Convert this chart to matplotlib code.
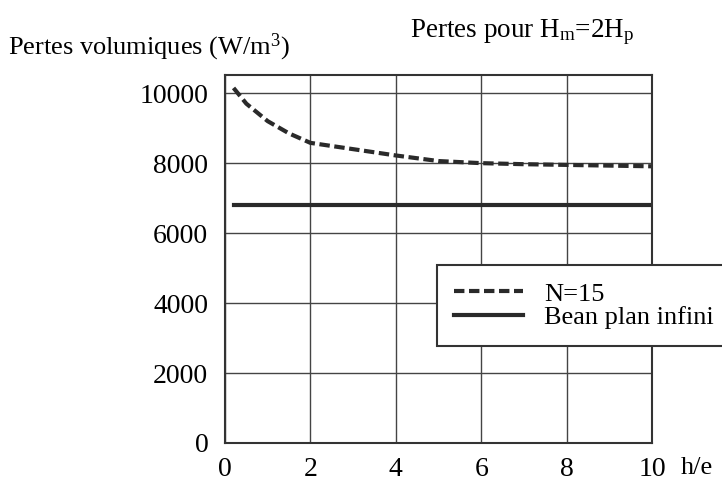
import matplotlib

matplotlib.use("Agg")
import matplotlib.pyplot as plt

# N=15 curve
x_n15 = [0.2, 0.5, 1, 1.5, 2, 3, 4, 5, 6, 7, 8, 9, 10]
y_n15 = [10150, 9700, 9200, 8850, 8580, 8400, 8220, 8060, 8000, 7970, 7950, 7930, 7910]

# infinite plane reference
x_inf = [0.2, 10]
y_inf = [6800, 6800]

x_ticks = [0, 2, 4, 6, 8, 10]
y_ticks = [0, 2000, 4000, 6000, 8000, 10000]

plt.rcParams["font.family"] = ["Liberation Serif", "DejaVu Serif"]
plt.rcParams["mathtext.fontset"] = "custom"
plt.rcParams["mathtext.rm"] = "Liberation Serif"
plt.rcParams["mathtext.it"] = "Liberation Serif"

fig = plt.figure(figsize=(7.22, 4.82), dpi=100)
ax = fig.add_axes([225 / 722, 1 - 443 / 482, 427 / 722, 368 / 482])

ax.plot(x_n15, y_n15, color="#2a2a2a", lw=3, ls=(0, (2.5, 1.1)), label="N=15")
ax.plot(x_inf, y_inf, color="#2a2a2a", lw=3, label="Bean plan infini")

ax.set_xlim(0, 10)
ax.set_ylim(0, 10520)
ax.set_xticks(x_ticks)
ax.set_yticks(y_ticks)
ax.tick_params(length=0, labelsize=20)
ax.tick_params(axis="y", pad=12)
ax.tick_params(axis="x", pad=10)
ax.grid(True, color="#444444", lw=1)
for s in ax.spines.values():
    s.set_color("#333333")
    s.set_linewidth(1.5)

fig.text(8 / 722, 1 - 47 / 482, "Pertes volumiques (W/m$^3$)", fontsize=19, va="center")
fig.text(410 / 722, 1 - 32 / 482, "Pertes pour H$_\\mathrm{m}$=2H$_\\mathrm{p}$", fontsize=19.5, va="center")
fig.text(681 / 722, 1 - 468 / 482, "h/e", fontsize=19, va="center")

# legend runs past the right edge, as in the scan
leg = ax.legend(loc="upper left", bbox_to_anchor=(437 / 722, 1 - 265 / 482),
                bbox_transform=fig.transFigure, fontsize=19, frameon=True,
                fancybox=False, handlelength=2.6, handletextpad=0.8,
                borderpad=0.65, labelspacing=0.0, borderaxespad=0)
leg.get_frame().set_edgecolor("#333333")
leg.get_frame().set_linewidth(1.5)
leg.get_frame().set_alpha(1)

plt.savefig("out.png", dpi=100)
plt.close(fig)
